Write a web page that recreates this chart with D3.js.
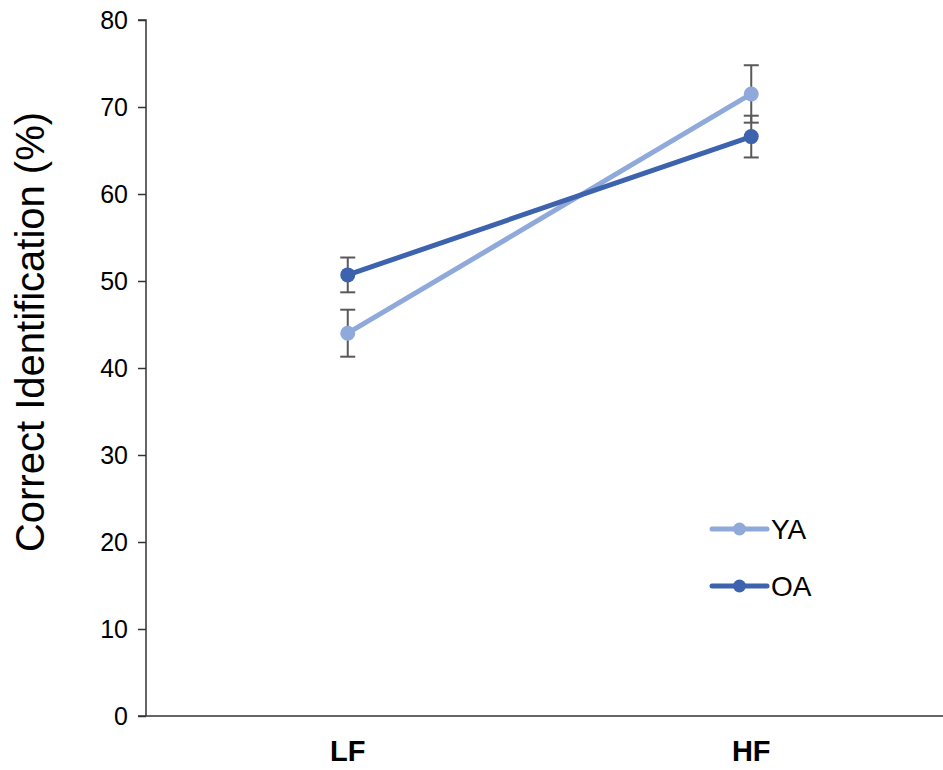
<!DOCTYPE html>
<html>
<head>
<meta charset="utf-8">
<script src="https://cdn.jsdelivr.net/npm/d3@7/dist/d3.min.js"></script>
<style>
  body { margin: 0; background: #fff; }
  svg { display: block; font-family: "Liberation Sans", Arial, sans-serif; }
</style>
</head>
<body>
<svg id="chart" width="943" height="770"></svg>
<script>
// Conditions on the x axis
const categories = ["LF", "HF"];
// Group means (% correct) and standard errors
const seriesNames = ["YA", "OA"];
const yaValues = [44.0, 71.5];
const yaErrors = [2.7, 3.3];
const oaValues = [50.7, 66.6];
const oaErrors = [2.0, 2.4];
const yTicks = [0, 10, 20, 30, 40, 50, 60, 70, 80];
const yTitle = "Correct Identification (%)";

const colors = { YA: "#8FA9DA", OA: "#3D63AE" };

const series = [
  { name: seriesNames[0], values: yaValues, errors: yaErrors, color: colors.YA },
  { name: seriesNames[1], values: oaValues, errors: oaErrors, color: colors.OA }
];

const svg = d3.select("#chart");
const plot = { left: 146, right: 953, top: 20, bottom: 716 };

const x = d3.scaleBand().domain(categories).range([plot.left, plot.right]).padding(0);
const cx = c => x(c) + x.bandwidth() / 2;
const y = d3.scaleLinear().domain([0, 80]).range([plot.bottom, plot.top]);

// Y axis
const yAxis = svg.append("g")
  .attr("transform", `translate(${plot.left},0)`)
  .call(d3.axisLeft(y).tickValues(yTicks).tickSize(8).tickPadding(10));
yAxis.attr("font-size", null).attr("font-family", null);
yAxis.select(".domain").attr("stroke", "#333").attr("stroke-width", 1.5)
  .attr("d", `M-8,${plot.top}H0V${plot.bottom}`);
yAxis.selectAll(".tick line").attr("stroke", "#333").attr("stroke-width", 1.5);
yAxis.selectAll(".tick text").style("font-size", "25px").attr("fill", "#000");

// X axis
const xAxis = svg.append("g")
  .attr("transform", `translate(0,${plot.bottom})`)
  .call(d3.axisBottom(x).tickSize(0).tickPadding(0));
xAxis.attr("font-size", null).attr("font-family", null);
xAxis.select(".domain").attr("stroke", "#333").attr("stroke-width", 1.5)
  .attr("d", `M${plot.left - 8},0H${plot.right}`);
xAxis.selectAll(".tick text").style("font-size", "29px").attr("font-weight", "bold").attr("fill", "#000")
  .attr("y", 35).attr("dy", "0.36em");

// Y axis title
svg.append("text")
  .attr("transform", `translate(30,${(plot.top + plot.bottom) / 2 - 36}) rotate(-90)`)
  .attr("text-anchor", "middle")
  .attr("dy", "0.36em")
  .style("font-size", "40px")
  .attr("fill", "#000")
  .text(yTitle);

const line = d3.line().x((d, i) => cx(categories[i])).y(d => y(d));

// Lines
series.forEach(s => {
  svg.append("path")
    .attr("d", line(s.values))
    .attr("fill", "none")
    .attr("stroke", s.color)
    .attr("stroke-width", 5);
});

// Error bars
series.forEach(s => {
  const g = svg.append("g").attr("stroke", "#595959").attr("stroke-width", 2);
  s.values.forEach((v, i) => {
    const px = cx(categories[i]);
    const y1 = y(v + s.errors[i]), y2 = y(v - s.errors[i]);
    g.append("line").attr("x1", px).attr("x2", px).attr("y1", y1).attr("y2", y2);
    g.append("line").attr("x1", px - 7.5).attr("x2", px + 7.5).attr("y1", y1).attr("y2", y1);
    g.append("line").attr("x1", px - 7.5).attr("x2", px + 7.5).attr("y1", y2).attr("y2", y2);
  });
});

// Markers
series.forEach(s => {
  svg.append("g").selectAll("circle")
    .data(s.values)
    .join("circle")
    .attr("cx", (d, i) => cx(categories[i]))
    .attr("cy", d => y(d))
    .attr("r", 7.5)
    .attr("fill", s.color);
});

// Legend
const legend = svg.append("g");
series.forEach((s, i) => {
  const ly = 529 + i * 57;
  legend.append("line").attr("x1", 712).attr("x2", 767).attr("y1", ly).attr("y2", ly)
    .attr("stroke", s.color).attr("stroke-width", 5).attr("stroke-linecap", "round");
  legend.append("circle").attr("cx", 739.5).attr("cy", ly).attr("r", 6.5).attr("fill", s.color);
  legend.append("text").attr("x", 771).attr("y", ly).attr("dy", "0.36em")
    .style("font-size", "28px").attr("fill", "#000").text(s.name);
});
</script>
</body>
</html>
